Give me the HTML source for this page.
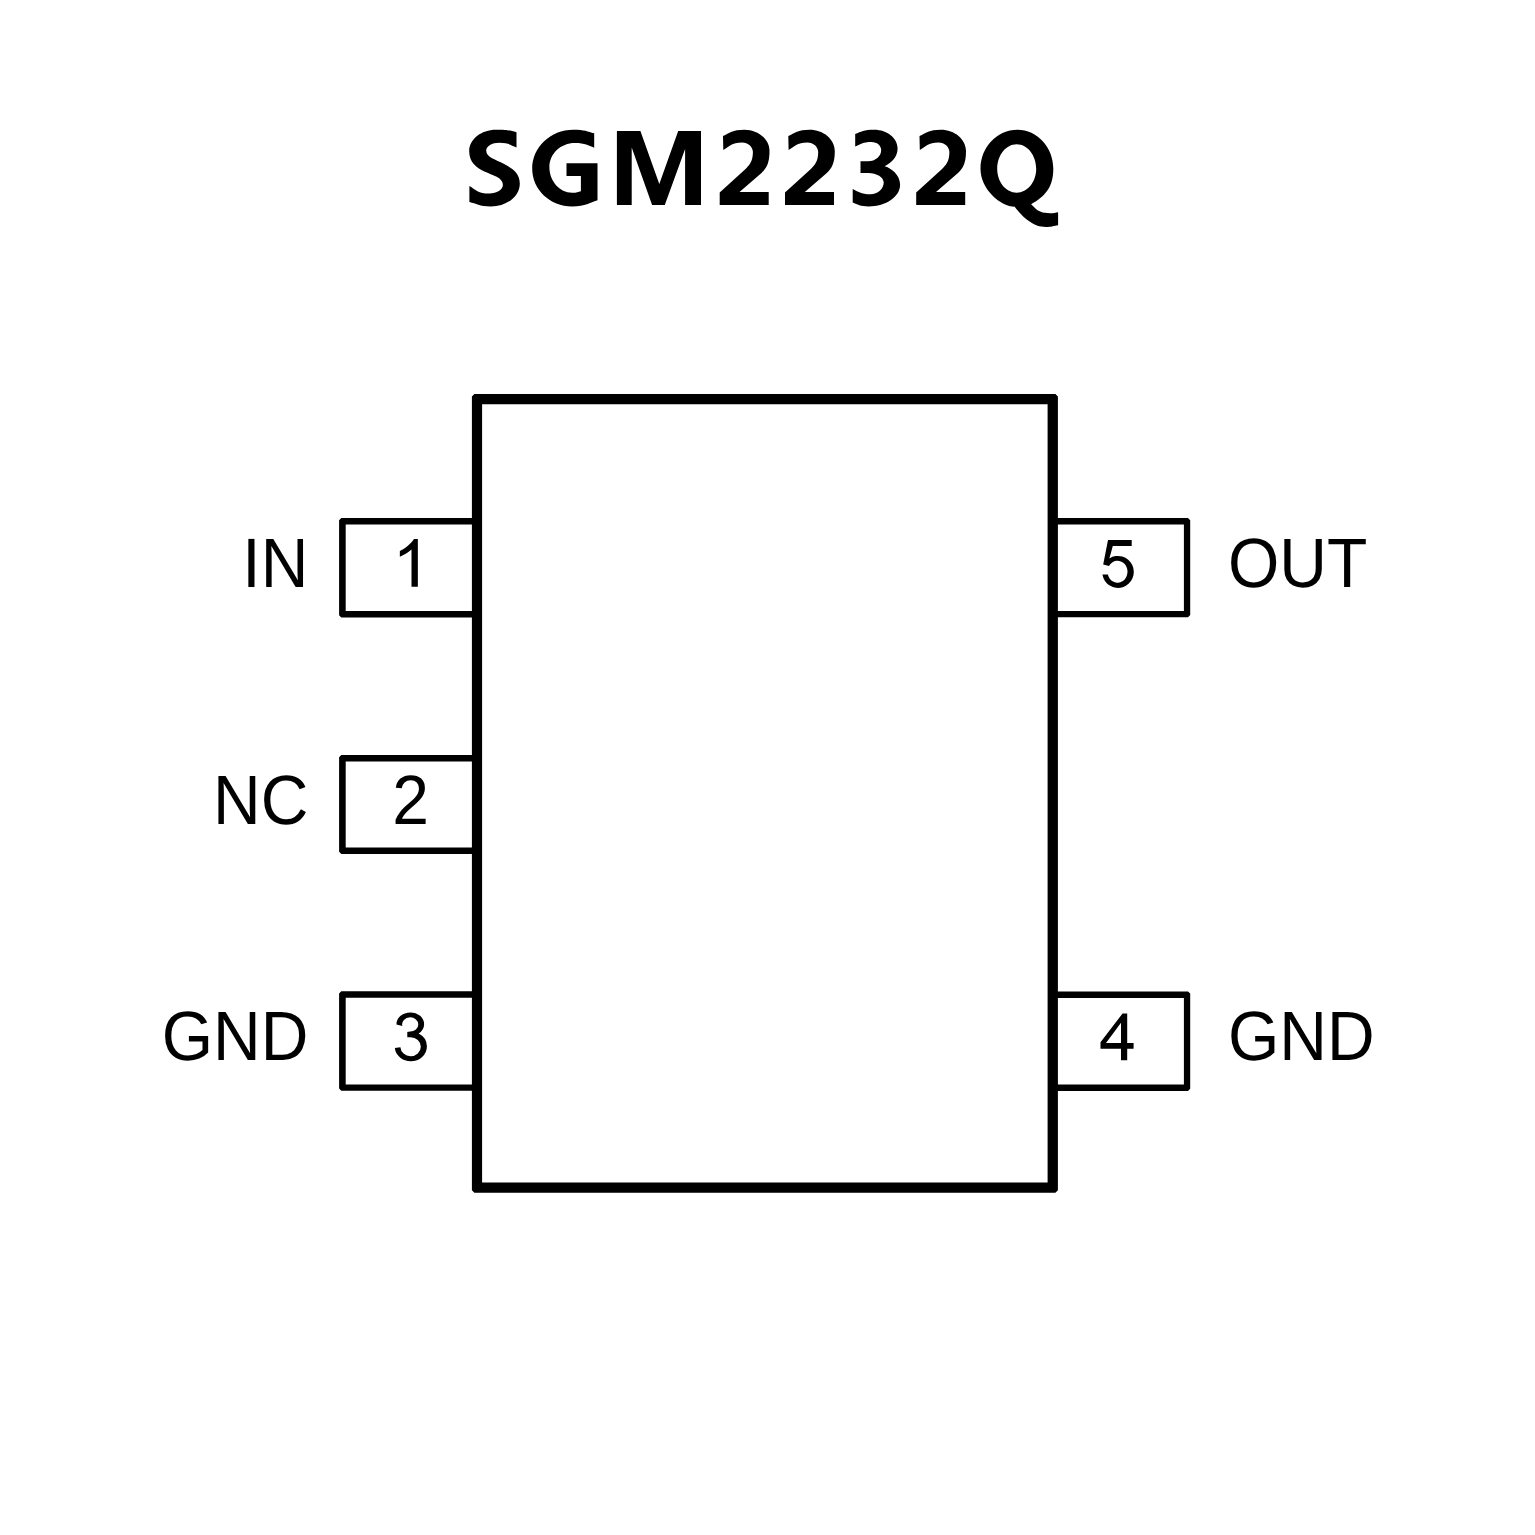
<!DOCTYPE html>
<html>
<head>
<meta charset="utf-8">
<style>
html,body{margin:0;padding:0;background:#fff;width:1535px;height:1535px;overflow:hidden;}
svg{position:absolute;left:0;top:0;display:block;}
</style>
</head>
<body>
<svg width="1535" height="1535" viewBox="0 0 1535 1535">
<rect x="0" y="0" width="1535" height="1535" fill="#fff"/>
<g fill="#000" fill-rule="evenodd">
<path d="M516.50 132.20L516.50 147.40C511.00 145.40 508.79 142.80 499.30 142.80C492.07 142.80 486.20 146.25 486.20 150.50C486.20 157.79 496.11 159.49 503.70 163.70C512.02 168.31 519.80 172.66 519.80 183.70C519.80 196.23 506.90 206.40 491.00 206.40C479.08 206.40 476.52 203.41 469.40 201.90L469.40 185.90C475.43 189.38 478.32 193.60 489.30 193.60C496.81 193.60 502.90 189.66 502.90 184.80C502.90 177.46 492.52 175.28 484.40 171.50C476.27 167.71 469.20 162.32 469.20 151.00C469.20 139.24 481.21 129.70 496.00 129.70C507.32 129.70 509.98 130.45 516.50 132.20Z"/>
<path d="M594.20 133.30L594.20 147.70C588.05 145.46 585.51 143.00 574.80 143.00C560.78 143.00 549.40 153.80 549.40 167.10C549.40 181.29 559.57 192.80 572.10 192.80C576.96 192.80 578.06 191.96 580.90 191.20L580.90 175.90L566.50 175.90L566.50 163.20L597.50 163.20L597.50 200.30C589.33 202.96 586.12 206.40 572.10 206.40C550.08 206.40 532.20 189.51 532.20 168.70C532.20 147.17 550.57 129.70 573.20 129.70C584.79 129.70 587.44 131.49 594.20 133.30Z"/>
<path d="M616.90 131.00L640.40 131.00L659.30 184.10L678.20 131.00L701.00 131.00L701.00 204.90L685.10 204.90L685.10 148.90L664.80 204.90L652.10 204.90L631.70 147.60L631.70 204.90L616.90 204.90L616.90 131.00Z"/>
<path d="M723.00 136.10C729.58 133.03 732.54 129.70 744.30 129.70C758.21 129.70 769.50 139.24 769.50 151.00C769.50 163.14 766.52 168.25 761.50 173.00L739.50 192.00L768.70 192.00L768.70 205.00L719.70 205.00L719.70 192.50L745.00 169.50C749.23 165.47 752.90 161.70 752.90 152.10C752.90 146.75 748.06 142.40 742.10 142.40C731.72 142.40 729.02 146.59 723.30 149.90L723.00 136.10Z"/>
<path d="M788.30 136.10C794.88 133.03 797.84 129.70 809.60 129.70C823.51 129.70 834.80 139.24 834.80 151.00C834.80 163.14 831.82 168.25 826.80 173.00L804.80 192.00L834.00 192.00L834.00 205.00L785.00 205.00L785.00 192.50L810.30 169.50C814.53 165.47 818.20 161.70 818.20 152.10C818.20 146.75 813.36 142.40 807.40 142.40C797.02 142.40 794.32 146.59 788.60 149.90L788.30 136.10Z"/>
<path d="M855.20 133.90C861.21 131.71 863.76 129.70 874.30 129.70C887.16 129.70 897.60 137.99 897.60 148.20C897.60 158.14 890.39 162.86 884.60 166.20C890.91 167.89 900.10 174.53 900.10 184.80C900.10 196.72 886.08 206.40 868.80 206.40C859.91 206.40 857.81 204.36 852.70 202.50L852.70 188.90C858.19 191.46 860.67 194.20 870.50 194.20C877.79 194.20 883.70 188.96 883.70 182.50C883.70 177.20 876.76 172.90 868.20 172.90C863.95 172.90 863.07 172.90 860.50 172.90L860.50 161.20C863.07 161.20 863.95 161.20 868.20 161.20C875.38 161.20 881.20 156.14 881.20 149.90C881.20 145.48 876.90 141.90 871.60 141.90C862.55 141.90 860.24 144.25 855.20 146.60L855.20 133.90Z"/>
<path d="M919.50 136.10C926.08 133.03 929.04 129.70 940.80 129.70C954.71 129.70 966.00 139.24 966.00 151.00C966.00 163.14 963.02 168.25 958.00 173.00L936.00 192.00L965.20 192.00L965.20 205.00L916.20 205.00L916.20 192.50L941.50 169.50C945.73 165.47 949.40 161.70 949.40 152.10C949.40 146.75 944.56 142.40 938.60 142.40C928.22 142.40 925.52 146.59 919.80 149.90L919.50 136.10Z"/>
<path d="M1017.40 129.80C1037.22 129.80 1053.30 147.27 1053.30 168.80C1053.30 188.40 1043.91 196.90 1031.10 204.30C1034.67 207.30 1036.06 209.93 1040.20 211.60C1043.90 213.09 1045.76 213.20 1050.30 213.20C1053.81 213.20 1055.55 212.65 1058.10 212.20L1058.10 225.20C1054.10 225.76 1051.44 227.00 1046.00 227.00C1038.98 227.00 1035.77 225.45 1030.40 222.10C1024.96 218.70 1022.09 215.41 1018.30 211.20C1016.95 209.70 1016.18 208.47 1014.70 206.70C1001.02 206.70 980.50 189.72 980.50 168.80C980.50 147.27 997.03 129.80 1017.40 129.80ZM1016.70 144.20C1005.94 144.20 997.20 155.22 997.20 168.80C997.20 181.99 1005.94 192.70 1016.70 192.70C1027.46 192.70 1036.20 181.99 1036.20 168.80C1036.20 155.22 1027.46 144.20 1016.70 144.20Z"/>
</g>
<path fill="#000" fill-rule="evenodd" d="M474.40 393.95H1055.40L1057.90 396.45V1190.25L1055.40 1192.75H474.40L471.90 1190.25V396.45ZM482.10 404.30H1047.60V1182.50H482.10Z"/>
<path fill="#000" d="M477.00 518.00H341.30L339.10 520.20V615.20L341.30 617.40H477.00V611.00H345.70V524.50H477.00ZM477.00 755.00H341.30L339.10 757.20V851.70L341.30 853.90H477.00V847.60H345.70V761.50H477.00ZM477.00 991.30H341.30L339.10 993.50V1088.60L341.30 1090.80H477.00V1084.40H345.70V997.80H477.00ZM1053.00 518.00H1188.00L1190.20 520.20V615.10L1188.00 617.30H1053.00V611.00H1183.90V524.50H1053.00ZM1053.00 991.40H1188.00L1190.20 993.60V1088.80L1188.00 1091.00H1053.00V1084.60H1183.90V997.90H1053.00Z"/>
<g fill="#000">
<path d="M417.85 539.12L413.97 539.12C412.5 541.5 409.5 544.5 406.4 546.9C404.3 548.5 402 549.8 399.84 551L399.84 556.7C402.5 555.7 406 553.6 408.7 551.7C409.8 550.9 410.7 550.1 411.5 549.4L411.5 586.8L417.85 586.8Z"/><path d="M1127.2 1013.45L1122.6 1013.45L1100.5 1042.2L1100.5 1048.8L1121 1048.8L1121 1060.2L1127.2 1060.2L1127.2 1048.8L1133.6 1048.8L1133.6 1042.9L1127.2 1042.9ZM1121 1042.9L1106 1042.9L1121 1022.8Z"/><path d="M1108 540L1103.2 564.6L1109.0 565.9A10 10.95 0 1 1 1107.84 574.6L1102.43 574.6A15.8 16 0 1 0 1109.37 558.5L1112.8 546L1131.7 546L1131.7 540Z"/><path d="M396.5 1024.6A13.8 11.7 0 0 1 410.3 1012.4A13.8 11.7 0 0 1 424.1 1024.1A13.8 11.7 0 0 1 418.6 1033.5A16.1 14.7 0 0 1 426.9 1046.6A16.1 14.7 0 0 1 410.8 1061.3A16.1 14.7 0 0 1 394.8 1048.1L400.4 1047.2A10.2 9.5 0 0 0 410.6 1056.2A10.2 9.5 0 0 0 420.8 1046.7A10.2 9.5 0 0 0 410.6 1037.2L407.3 1037.2L407.3 1032.1L410.2 1031.5A8.1 7.1 0 0 0 418.3 1024.4A8.1 7.1 0 0 0 410.2 1017.3A8.1 7.1 0 0 0 402.3 1025.9Z"/>
</g>
<g fill="#000" font-family="'Liberation Sans', sans-serif" font-size="66" text-rendering="geometricPrecision">
<text transform="translate(308.30 586.95) scale(1 1.060)" text-anchor="end">IN</text>
<text transform="translate(308.30 823.90) scale(1 1.060)" text-anchor="end">NC</text>
<text transform="translate(308.30 1060.30) scale(1 1.060)" text-anchor="end">GND</text>
<text transform="translate(1228.00 586.95) scale(1 1.060)" text-anchor="start">OUT</text>
<text transform="translate(1228.00 1060.30) scale(1 1.060)" text-anchor="start">GND</text>
<text transform="translate(410.50 823.90) scale(1 1.060)" text-anchor="middle">2</text>
</g>
</svg>
</body>
</html>
